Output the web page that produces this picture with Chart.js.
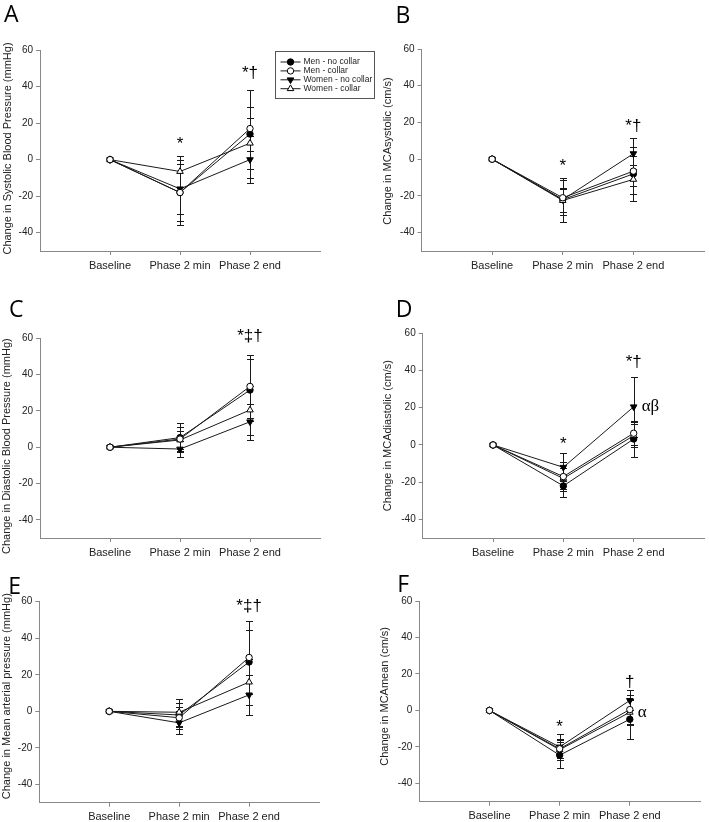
<!DOCTYPE html>
<html>
<head>
<meta charset="utf-8">
<script src="https://cdn.jsdelivr.net/npm/chart.js@4.4.1/dist/chart.umd.min.js"></script>
<style>
body { margin: 0; background: #fff; }
#page { position: relative; width: 709px; height: 822px; overflow: hidden; background: #fff; }
canvas { position: absolute; }
</style>
</head>
<body>
<div id="page"></div>
<script>
const categories = ['Baseline', 'Phase 2 min', 'Phase 2 end'];
const seriesLabels = ['Men - no collar', 'Men - collar', 'Women - no collar', 'Women - collar'];
const yTickValues = [-40, -20, 0, 20, 40, 60];

// rows: men no collar, men collar, women no collar, women collar
const sbpMean = [[0, -18, 14], [0, -18, 17], [0, -16, 0], [0, -6.5, 9]];
const sbpSD = [[0, 17.8, 24], [0, 15.5, 12], [0, 13.5, 12.8], [0, 8.5, 14]];

const mcaSysMean = [[0, -22, -8], [0, -21, -6.5], [0, -22, 3], [0, -22.5, -11]];
const mcaSysSD = [[0, 12, 14.5], [0, 9.5, 8], [0, 6.5, 8.5], [0, 6, 8]];

const dbpMean = [[0, 5.3, 31.5], [0, 4.5, 33.5], [0, -1, 14], [0, 4, 20.5]];
const dbpSD = [[0, 8, 17], [0, 6.5, 17.3], [0, 4.2, 10], [0, 5, 13.5]];

const mcaDiaMean = [[0, -22, 3.2], [0, -17, 6.3], [0, -12, 20.5], [0, -18, 5]];
const mcaDiaSD = [[0, 5.8, 9.8], [0, 7.7, 6.2], [0, 7.5, 16], [0, 5.5, 6.3]];

const mapMean = [[0, -2, 27], [0, -3.5, 29.5], [0, -6.3, 9], [0, -0.5, 16]];
const mapSD = [[0, 6.5, 17.5], [0, 6, 20], [0, 6.3, 11], [0, 7.5, 12.5]];

const mcaMeanMean = [[0, -24.5, -4.8], [0, -21, 0.5], [0, -20, 5.5], [0, -21.5, -1]];
const mcaMeanSD = [[0, 7, 11], [0, 5.1, 8], [0, 7.2, 5.5], [0, 5.5, 6.8]];

// significance marks: x = category index, y = value on the axis
const notesA = [{ x: 1, y: 10, text: '*' }, { x: 2, y: 48.7, text: '*†' }];
const notesB = [{ x: 1, y: -2.2, text: '*' }, { x: 2, y: 19.5, text: '*†' }];
const notesC = [{ x: 2, y: 62.7, text: '*‡†' }];
const notesD = [{ x: 1, y: 1.8, text: '*' }, { x: 2, y: 46, text: '*†' }, { x: 2, y: 20.6, text: 'αβ', greek: true }];
const notesE = [{ x: 2, y: 59, text: '*‡†' }];
const notesF = [{ x: 1, y: -7.4, text: '*' }, { x: 2, y: 17, text: '†' }, { x: 2, y: -1.1, text: 'α', greek: true }];

const SANS = '"Liberation Sans", Arial, sans-serif';
Chart.defaults.font.family = SANS;

// open circle drawn last so it sits on top at baseline
const seriesStyle = [
    { shape: 'circle', fill: '#000', radius: 3.2, rotation: 0, order: 2 },
    { shape: 'circle', fill: '#fff', radius: 3.2, rotation: 0, order: 0 },
    { shape: 'triangle', fill: '#000', radius: 3.8, rotation: 180, order: 3 },
    { shape: 'triangle', fill: '#fff', radius: 3.8, rotation: 0, order: 1 }
];

function drawMarker(ctx, st, x, y) {
    ctx.beginPath();
    if (st.shape == 'circle') {
        ctx.arc(x, y, st.radius, 0, Math.PI * 2);
    } else {
        const r = st.radius;
        const d = st.rotation ? -1 : 1;
        ctx.moveTo(x, y - d * r);
        ctx.lineTo(x + r * 0.87, y + d * r * 0.5);
        ctx.lineTo(x - r * 0.87, y + d * r * 0.5);
        ctx.closePath();
    }
    ctx.fillStyle = st.fill;
    ctx.fill();
    ctx.lineWidth = 1;
    ctx.strokeStyle = '#000';
    ctx.stroke();
}

function makePanel(p) {
    const yW = 38, xH = 18;
    const canvas = document.createElement('canvas');
    canvas.width = p.rect[2];
    canvas.height = p.rect[3];
    canvas.style.left = p.rect[0] + 'px';
    canvas.style.top = p.rect[1] + 'px';
    document.getElementById('page').appendChild(canvas);

    const datasets = seriesLabels.map((label, i) => ({
        label: label,
        data: categories.map((c, j) => ({ x: j, y: p.mean[i][j] })),
        sd: p.sd[i],
        order: seriesStyle[i].order,
        borderColor: '#1a1a1a',
        borderWidth: 1,
        tension: 0,
        fill: false,
        pointStyle: seriesStyle[i].shape,
        pointRadius: seriesStyle[i].radius,
        pointRotation: seriesStyle[i].rotation,
        pointBackgroundColor: seriesStyle[i].fill,
        pointBorderColor: '#000',
        pointBorderWidth: 1
    }));

    const extras = {
        id: 'extras',
        beforeDatasetsDraw(chart) {
            const ctx = chart.ctx, xs = chart.scales.x, ys = chart.scales.y;
            ctx.save();
            ctx.strokeStyle = '#1a1a1a';
            ctx.lineWidth = 1;
            chart.data.datasets.forEach(ds => {
                ds.data.forEach((pt, j) => {
                    const s = ds.sd[j];
                    if (!s) return;
                    const x = Math.round(xs.getPixelForValue(pt.x)) + 0.5;
                    const top = Math.round(ys.getPixelForValue(pt.y + s)) + 0.5;
                    const bot = Math.round(ys.getPixelForValue(pt.y - s)) + 0.5;
                    ctx.beginPath();
                    ctx.moveTo(x, top); ctx.lineTo(x, bot);
                    ctx.moveTo(x - 3.5, top); ctx.lineTo(x + 3.5, top);
                    ctx.moveTo(x - 3.5, bot); ctx.lineTo(x + 3.5, bot);
                    ctx.stroke();
                });
            });
            ctx.restore();
        },
        afterDraw(chart) {
            const ctx = chart.ctx, ca = chart.chartArea;
            const xs = chart.scales.x, ys = chart.scales.y;
            ctx.save();
            // panel letter
            ctx.fillStyle = '#000';
            ctx.font = '23px "Open Sans", sans-serif';
            ctx.textAlign = 'left';
            ctx.textBaseline = 'alphabetic';
            ctx.fillText(p.letter, ca.left + p.letterAt[0], ca.top + p.letterAt[1]);
            // y axis title
            ctx.save();
            ctx.translate(ca.left + p.titleAt[0], (ca.top + ca.bottom) / 2 + p.titleAt[1]);
            ctx.rotate(-Math.PI / 2);
            ctx.font = '11px ' + SANS;
            ctx.fillStyle = '#222';
            ctx.textAlign = 'center';
            ctx.textBaseline = 'middle';
            ctx.fillText(p.title, 0, 0);
            ctx.restore();
            // significance marks
            p.notes.forEach(n => {
                const x = xs.getPixelForValue(n.x);
                const y = ys.getPixelForValue(n.y);
                ctx.fillStyle = '#000';
                ctx.textBaseline = 'middle';
                if (n.greek) {
                    ctx.font = '17px "Liberation Serif", serif';
                    ctx.textAlign = 'left';
                    ctx.fillText(n.text, x + 8, y);
                } else {
                    ctx.font = '17px ' + SANS;
                    ctx.textAlign = 'center';
                    ctx.fillText(n.text, x, y + 3);
                }
            });
            // legend box (panel A only)
            if (p.legend) {
                const bx = Math.round(ca.left + 235) + 0.5, by = Math.round(ca.top + 1) + 0.5;
                ctx.strokeStyle = '#555';
                ctx.lineWidth = 1;
                ctx.strokeRect(bx, by, 99, 47);
                ctx.font = '8.5px ' + SANS;
                ctx.textAlign = 'left';
                ctx.textBaseline = 'middle';
                seriesLabels.forEach((label, i) => {
                    const ry = by + 10.5 + i * 8.9;
                    ctx.strokeStyle = '#1a1a1a';
                    ctx.beginPath();
                    ctx.moveTo(bx + 5, ry); ctx.lineTo(bx + 25, ry);
                    ctx.stroke();
                    drawMarker(ctx, seriesStyle[i], bx + 15, ry);
                    ctx.fillStyle = '#222';
                    ctx.fillText(label, bx + 28, ry);
                });
            }
            ctx.restore();
        }
    };

    return new Chart(canvas, {
        type: 'line',
        data: { datasets: datasets },
        options: {
            responsive: false,
            animation: false,
            layout: {
                padding: {
                    left: p.box[0] - p.rect[0] - yW,
                    top: p.box[1] - p.rect[1],
                    right: p.rect[0] + p.rect[2] - p.box[2],
                    bottom: p.rect[1] + p.rect[3] - p.box[3] - xH
                }
            },
            plugins: { legend: { display: false }, tooltip: { enabled: false } },
            scales: {
                x: {
                    type: 'linear',
                    min: -1,
                    max: 3,
                    afterBuildTicks: s => { s.ticks = categories.map((c, j) => ({ value: j })); },
                    afterFit: s => { s.height = xH; },
                    grid: { display: true, drawOnChartArea: false, drawTicks: true, tickLength: 4, tickColor: '#888' },
                    border: { display: true, color: '#888', width: 1 },
                    ticks: { callback: v => categories[v], color: '#222', font: { size: 11 }, padding: 4, maxRotation: 0, autoSkip: false }
                },
                y: {
                    min: -50,
                    max: 60,
                    afterBuildTicks: s => { s.ticks = yTickValues.map(v => ({ value: v })); },
                    afterFit: s => { s.width = yW; },
                    grid: { display: true, drawOnChartArea: false, drawTicks: true, tickLength: 4, tickColor: '#888' },
                    border: { display: true, color: '#888', width: 1 },
                    ticks: { color: '#222', font: { size: 10 }, padding: 3 }
                }
            }
        },
        plugins: [extras]
    });
}

makePanel({ letter: 'A', mean: sbpMean, sd: sbpSD, notes: notesA, legend: true,
    title: 'Change in Systolic Blood Pressure (mmHg)',
    rect: [0, 0, 380, 280], box: [40, 50, 320, 251], letterAt: [-36, -28], titleAt: [-32, -2] });
makePanel({ letter: 'B', mean: mcaSysMean, sd: mcaSysSD, notes: notesB,
    title: 'Change in MCAsystolic (cm/s)',
    rect: [360, 0, 349, 280], box: [421.5, 49, 705, 251], letterAt: [-26, -26], titleAt: [-33.5, 1] });
makePanel({ letter: 'C', mean: dbpMean, sd: dbpSD, notes: notesC,
    title: 'Change in Diastolic Blood Pressure (mmHg)',
    rect: [0, 280, 340, 282], box: [40, 338.3, 320, 538], letterAt: [-31, -21], titleAt: [-33, 8] });
makePanel({ letter: 'D', mean: mcaDiaMean, sd: mcaDiaSD, notes: notesD,
    title: 'Change in MCAdiastolic (cm/s)',
    rect: [360, 280, 349, 282], box: [422.7, 333.3, 708, 538], letterAt: [-27, -16], titleAt: [-34.5, 0] });
makePanel({ letter: 'E', mean: mapMean, sd: mapSD, notes: notesE,
    title: 'Change in Mean arterial pressure (mmHg)',
    rect: [0, 562, 340, 260], box: [39.3, 601.7, 319, 802.7], letterAt: [-31, -8], titleAt: [-32.3, -6] });
makePanel({ letter: 'F', mean: mcaMeanMean, sd: mcaMeanSD, notes: notesF,
    title: 'Change in MCAmean (cm/s)',
    rect: [360, 562, 349, 260], box: [419.3, 601, 700, 801.7], letterAt: [-22, -9], titleAt: [-34.3, -5] });
</script>
</body>
</html>
